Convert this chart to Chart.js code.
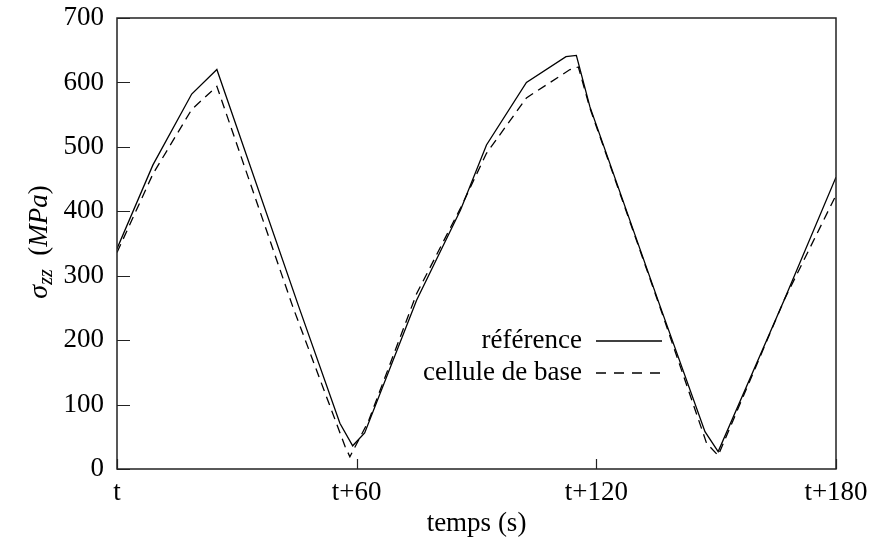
<!DOCTYPE html>
<html>
<head>
<meta charset="utf-8">
<script src="https://cdn.jsdelivr.net/npm/chart.js@4.4.1/dist/chart.umd.min.js"></script>
<style>
    html, body { margin: 0; padding: 0; background: #fff; }
</style>
</head>
<body>
<canvas id="stressChart" width="872" height="548"></canvas>
<script>
// time (s after t) and sigma_zz (MPa)
const refTimes = [0, 9, 18.7, 25, 45.5, 55.8, 59, 62, 75, 86, 92.5, 102.5, 112.4, 115, 118.4, 136, 147.2, 150.5, 167, 180];
const refStress = [342, 472, 582, 620, 252, 71, 36, 56, 262, 402, 503, 600, 640, 642, 562, 252, 58, 27, 262, 453];
const baseTimes = [0, 9, 18.7, 25, 44, 57.1, 58.3, 60.5, 63, 75, 86, 92.5, 102.5, 113.4, 115.5, 118.4, 136, 147.6, 150.5, 167, 180];
const baseStress = [336, 458, 558, 594, 252, 35, 19, 45, 75, 272, 405, 490, 576, 620, 624, 560, 250, 40, 21, 262, 425];
const seriesNames = ['référence', 'cellule de base'];
const xTickValues = [0, 60, 120, 180];
const xTickLabels = ['t', 't+60', 't+120', 't+180'];
const yTickValues = [0, 100, 200, 300, 400, 500, 600, 700];

const FONT = '"Liberation Serif", "Times New Roman", serif';
const FSIZE = 27;

function toPoints(xs, ys) {
    return xs.map((x, i) => ({ x: x, y: ys[i] }));
}

// frame, inward ticks, in-plot legend and the y title with its subscript
const decorPlugin = {
    id: 'decor',
    afterDraw(chart) {
        const ctx = chart.ctx;
        const area = chart.chartArea;
        const xScale = chart.scales.x;
        const yScale = chart.scales.y;
        ctx.save();
        ctx.strokeStyle = '#222';
        ctx.lineWidth = 1.5;
        ctx.strokeRect(area.left, area.top, area.right - area.left, area.bottom - area.top);

        ctx.lineWidth = 1.2;
        ctx.beginPath();
        yTickValues.forEach(v => {
            const py = Math.round(yScale.getPixelForValue(v)) + 0.5;
            ctx.moveTo(area.left, py);
            ctx.lineTo(area.left + 13, py);
        });
        xTickValues.forEach(v => {
            const px = Math.round(xScale.getPixelForValue(v)) + 0.5;
            ctx.moveTo(px, area.bottom);
            ctx.lineTo(px, area.bottom - 10);
        });
        ctx.stroke();

        // legend
        ctx.fillStyle = '#000';
        ctx.font = FSIZE + 'px ' + FONT;
        ctx.textAlign = 'right';
        ctx.textBaseline = 'middle';
        chart.data.datasets.forEach((ds, i) => {
            const ly = 341 + i * 32;
            ctx.fillText(ds.label, 582, ly);
            ctx.beginPath();
            ctx.setLineDash(ds.borderDash ? [10, 8] : []);
            ctx.strokeStyle = '#000';
            ctx.lineWidth = 1.3;
            ctx.moveTo(596, ly);
            ctx.lineTo(662, ly);
            ctx.stroke();
        });
        ctx.setLineDash([]);

        // y title: sigma_zz (MPa)
        ctx.translate(38, 242);
        ctx.rotate(-Math.PI / 2);
        ctx.textAlign = 'left';
        ctx.textBaseline = 'alphabetic';
        const parts = [
            { t: 'σ', f: 'italic 28px ' + FONT, dy: 0 },
            { t: 'zz', f: 'italic 20px ' + FONT, dy: 5 },
            { t: '  (', f: '27px ' + FONT, dy: 0 },
            { t: 'MPa', f: 'italic 27px ' + FONT, dy: 0 },
            { t: ')', f: '27px ' + FONT, dy: 0 }
        ];
        let total = 0;
        parts.forEach(p => { ctx.font = p.f; p.w = ctx.measureText(p.t).width; total += p.w; });
        let cx = -total / 2;
        parts.forEach(p => {
            ctx.font = p.f;
            ctx.fillText(p.t, cx, 9 + p.dy);
            cx += p.w;
        });
        ctx.restore();
    }
};

const ctx = document.getElementById('stressChart').getContext('2d');
const chart = new Chart(ctx, {
    type: 'line',
    data: {
        datasets: [{
            label: seriesNames[0],
            data: toPoints(refTimes, refStress),
            borderColor: '#000',
            borderWidth: 1.3,
            pointRadius: 0,
            tension: 0,
            fill: false
        }, {
            label: seriesNames[1],
            data: toPoints(baseTimes, baseStress),
            borderColor: '#000',
            borderWidth: 1.3,
            borderDash: [9, 6],
            pointRadius: 0,
            tension: 0,
            fill: false
        }]
    },
    options: {
        responsive: false,
        animation: false,
        devicePixelRatio: 1,
        layout: { padding: { top: 18, right: 36, left: 0, bottom: 0 } },
        plugins: {
            legend: { display: false },
            tooltip: { enabled: false }
        },
        scales: {
            x: {
                type: 'linear',
                min: 0,
                max: 180,
                afterBuildTicks: scale => { scale.ticks = xTickValues.map(v => ({ value: v })); },
                afterFit: scale => {
                    scale.height = 79;
                    scale.paddingLeft = 0;
                    scale.paddingRight = 0;
                },
                grid: { display: false, drawTicks: false },
                border: { display: false },
                ticks: {
                    padding: 8,
                    color: '#000',
                    maxRotation: 0,
                    font: { family: FONT, size: FSIZE },
                    callback: v => xTickLabels[xTickValues.indexOf(v)]
                },
                title: {
                    display: true,
                    text: 'temps (s)',
                    color: '#000',
                    font: { family: FONT, size: FSIZE },
                    padding: { top: 0, bottom: 8 }
                }
            },
            y: {
                min: 0,
                max: 700,
                afterBuildTicks: scale => { scale.ticks = yTickValues.map(v => ({ value: v })); },
                afterFit: scale => {
                    scale.width = 117;
                    scale.paddingTop = 0;
                    scale.paddingBottom = 0;
                },
                grid: { display: false, drawTicks: false },
                border: { display: false },
                ticks: {
                    padding: 13,
                    color: '#000',
                    font: { family: FONT, size: FSIZE }
                }
            }
        }
    },
    plugins: [decorPlugin]
});
</script>
</body>
</html>
